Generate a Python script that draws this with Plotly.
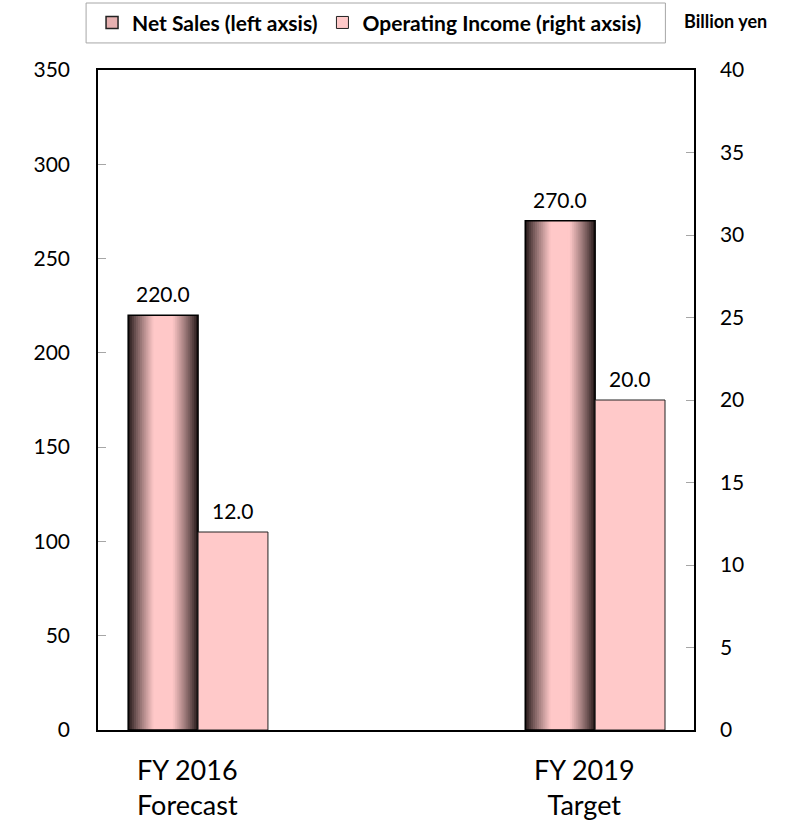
import plotly.graph_objects as go

# ---- data ----
categories = ["FY 2016<br>Forecast", "FY 2019<br>Target"]
net_sales = [220.0, 270.0]          # billion yen, left axis
operating_income = [12.0, 20.0]     # billion yen, right axis
left_ticks = [0, 50, 100, 150, 200, 250, 300, 350]
right_ticks = [0, 5, 10, 15, 20, 25, 30, 35, 40]

FONT = "Lato, 'Open Sans', sans-serif"
BAR_W = 0.176
centers = list(range(len(categories)))
ns_x = [c - BAR_W / 2 for c in centers]
oi_x = [c + BAR_W / 2 for c in centers]

fig = go.Figure()

# Net Sales bars: cylinder-like shading built from nested overlaid bars
dark = (38, 26, 26)
pink = (255, 200, 200)
N = 18
for k in range(N):
    t = min(1.0, (k / N) / 0.70)
    t = t ** 0.85
    col = tuple(round(d + (p - d) * t) for d, p in zip(dark, pink))
    fig.add_trace(go.Bar(
        x=ns_x, y=net_sales, width=BAR_W * (1 - k / N),
        marker=dict(color="rgb(%d,%d,%d)" % col, line=dict(width=0)),
        showlegend=False, hoverinfo="skip", yaxis="y",
    ))

# outline for Net Sales
fig.add_trace(go.Bar(
    x=ns_x, y=net_sales, width=BAR_W,
    marker=dict(color="rgba(0,0,0,0)", line=dict(color="black", width=1.5)),
    showlegend=False, name="Net Sales", yaxis="y",
))

# Operating Income bars on the right axis
fig.add_trace(go.Bar(
    x=oi_x, y=operating_income, width=BAR_W,
    marker=dict(color="#ffc9c9", line=dict(color="#222222", width=1)),
    showlegend=False, name="Operating Income", yaxis="y2",
))

# value labels
for xv, v in zip(ns_x, net_sales):
    fig.add_annotation(x=xv, y=v, xref="x", yref="y", yanchor="bottom", yshift=7,
                       text=f"{v:.1f}", showarrow=False,
                       font=dict(family=FONT, size=21, color="black"))
for xv, v in zip(oi_x, operating_income):
    fig.add_annotation(x=xv, y=v, xref="x", yref="y2", yanchor="bottom", yshift=7,
                       text=f"{v:.1f}", showarrow=False,
                       font=dict(family=FONT, size=21, color="black"))

# legend entries
fig.add_trace(go.Bar(
    x=[None], y=[None], name="Net Sales (left axsis)",
    marker=dict(color="#e6b0b0", line=dict(color="#222222", width=1.5)),
))
fig.add_trace(go.Bar(
    x=[None], y=[None], name="Operating Income (right axsis)",
    marker=dict(color="#ffc9c9", line=dict(color="#222222", width=1)),
))

# category labels under the axis
for c, lab in zip(centers, categories):
    fig.add_annotation(
        x=c, y=0, xref="x", yref="paper", yanchor="top", xshift=-11, yshift=-21,
        text=lab, showarrow=False, align="center",
        font=dict(family=FONT, size=27, color="black"),
    )

fig.add_annotation(
    x=1.0, y=1.074, xref="paper", yref="paper", xanchor="left", yanchor="middle",
    xshift=-12, text="<b>Billion yen</b>", showarrow=False,
    font=dict(family=FONT, size=18, color="black"),
)

# legend frame
fig.add_shape(type="rect", xref="paper", yref="paper",
              x0=-0.02, x1=0.952, y0=1.041, y1=1.1015,
              line=dict(color="#a6a6a6", width=1), fillcolor="rgba(0,0,0,0)")

fig.update_layout(
    width=785, height=823,
    margin=dict(l=98, r=91, t=70, b=93, autoexpand=False),
    paper_bgcolor="white", plot_bgcolor="white",
    barmode="overlay",
    font=dict(family=FONT, color="black"),
    legend=dict(
        orientation="h", x=-0.01, xanchor="left", y=1.0715, yanchor="middle",
        font=dict(family=FONT, size=21, color="black", weight="bold"),
        itemwidth=30, bgcolor="rgba(0,0,0,0)", borderwidth=0,
        traceorder="normal",
    ),
    xaxis=dict(
        range=[-0.252, 1.249], showticklabels=False, ticks="",
        showgrid=False, zeroline=False,
        showline=True, linecolor="black", linewidth=1.5, mirror=True,
    ),
    yaxis=dict(
        range=[0, 350], tickvals=left_ticks, showgrid=False, zeroline=False,
        ticks="inside", ticklen=8, tickcolor="#a6a6a6",
        showline=True, linecolor="black", linewidth=1.5,
        tickfont=dict(family=FONT, size=21, color="black"), ticklabelstandoff=22,
    ),
    yaxis2=dict(
        range=[0, 40], tickvals=right_ticks, overlaying="y", side="right",
        showgrid=False, zeroline=False,
        ticks="inside", ticklen=8, tickcolor="#a6a6a6",
        showline=True, linecolor="black", linewidth=1.5,
        tickfont=dict(family=FONT, size=21, color="black"), ticklabelstandoff=20,
    ),
)

fig.write_html("out.html")
